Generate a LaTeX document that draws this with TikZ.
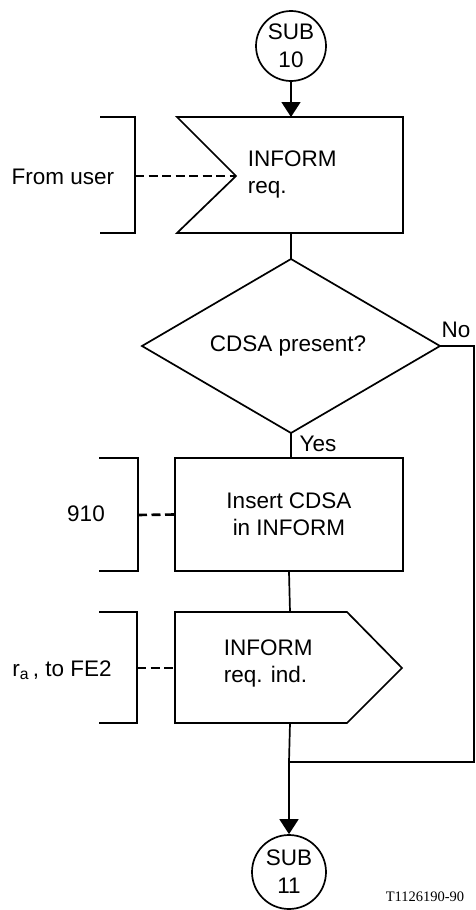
\documentclass[tikz,border=0pt]{standalone}
\usepackage{fontspec}
\setmainfont{Liberation Sans}
\newfontfamily\refserif{Liberation Serif}
\usetikzlibrary{arrows.meta,shapes.geometric}
\begin{document}
\begin{tikzpicture}[x=1pt,y=-1pt,
  line width=1.7pt,
  every node/.style={font=\fontsize{22.5}{27}\selectfont},
  conn/.style={line width=1.7pt},
  arr/.style={conn,-{Triangle[length=15pt,width=19pt]}},
  brk/.style={line width=2.6pt},
  dsh/.style={line width=2.6pt,dash pattern=on 9pt off 4.5pt},
  subc/.style={circle,draw,line width=1.7pt,inner sep=0pt,align=center,font=\fontsize{22.5}{28}\selectfont},
  lbl/.style={inner sep=0pt}]
\useasboundingbox (0,0) rectangle (475,910);
% start
\node[subc,minimum size=70pt] (sub10) at (291,46) {SUB\\10};
% input signal
\coordinate (inTL) at (177,117);
\coordinate (inTR) at (403,117);
\coordinate (inBR) at (403,233);
\coordinate (inBL) at (177,233);
\coordinate (inN) at (236,176);
\draw[conn] (inTL) -- (inTR) -- (inBR) -- (inBL) -- (inN) -- cycle;
\coordinate (inTop) at (291,117);
\coordinate (inBot) at (291,233);
\node[lbl,anchor=west,align=left] (intext) at (247,174) {INFORM\\req.};
\draw[arr] (sub10) -- (inTop);
% bracket 1
\draw[brk] (100,117) -- (135,117) -- (135,233) -- (100,233);
\coordinate (b1) at (135,176);
\draw[dsh] (b1) -- (inN);
\node[lbl] (fromuser) at (63,177) {From user};
% decision
\coordinate (dN) at (291,259);
\coordinate (dW) at (142,346);
\coordinate (dE) at (440,346);
\coordinate (dS) at (291,433);
\draw[conn] (dN) -- (dE) -- (dS) -- (dW) -- cycle;
\node[lbl] (dectext) at (288,346) {CDSA present?};
\draw[conn] (inBot) -- (dN);
% task box
\node[draw,line width=1.7pt,minimum width=228pt,minimum height=113pt,align=center,inner sep=0pt] (task) at (289,514.5) {Insert CDSA\\in INFORM};
\draw[conn] (dS) -- (dS |- task.north);
\node[lbl] (yes) at (318,444) {Yes};
\node[lbl] (no) at (456,330) {No};
% bracket 2
\draw[brk] (99,458) -- (138,458) -- (138,571) -- (99,571);
\coordinate (b2) at (138,515);
\draw[dsh] (b2) -- (task.west);
\node[lbl] (n910) at (86,514) {910};
% output signal
\coordinate (oTL) at (175,612);
\coordinate (oTR) at (347,612);
\coordinate (oP) at (402,668);
\coordinate (oBR) at (347,723);
\coordinate (oBL) at (175,723);
\draw[conn] (oTL) -- (oTR) -- (oP) -- (oBR) -- (oBL) -- cycle;
\coordinate (oTop) at (290,612);
\coordinate (oBot) at (290,723);
\coordinate (oW) at (175,668);
\node[lbl,anchor=west,align=left] (otext) at (223,663) {INFORM\\req. ind.};
\draw[conn] (task.south) -- (oTop);
% bracket 3
\draw[brk] (99,612) -- (137,612) -- (137,723) -- (99,723);
\coordinate (b3) at (137,668);
\draw[dsh] (b3) -- (oW);
\node[lbl] (ra) at (62,670) {r\textsubscript{a}\,, to FE2};
% merge
\coordinate (noR) at (474,346);
\coordinate (noD) at (474,762);
\coordinate (merge) at (289,762);
\draw[conn] (dE) -- (noR) -- (noD) -- (merge);
\node[subc,minimum size=74pt] (sub11) at (289,872) {SUB\\11};
\draw[conn] (oBot) -- (merge);
\draw[arr] (merge) -- (sub11);
\node[lbl,font=\refserif\fontsize{14.5}{17}\selectfont] (ref) at (425,897) {T1126190-90};
\end{tikzpicture}
\end{document}
